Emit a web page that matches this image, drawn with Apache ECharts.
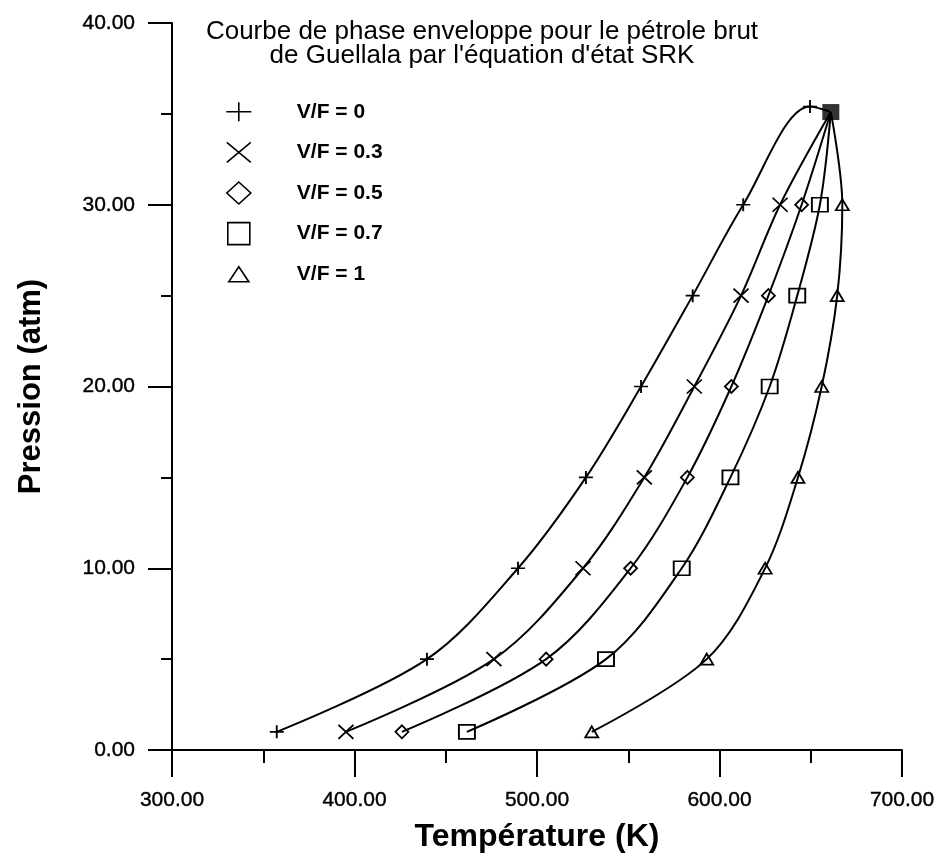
<!DOCTYPE html>
<html><head><meta charset="utf-8">
<script src="https://cdn.jsdelivr.net/npm/echarts@6/dist/echarts.min.js"></script>
<style>html,body{margin:0;padding:0;background:#fff}#c{width:940px;height:858px}</style>
</head><body><div id="c"></div>
<script>
// ---- data ----
const pressures = [1, 5, 10, 15, 20, 25, 30];            // atm
const tempVF0  = [357.4, 439.7, 489.6, 526.8, 557.0, 585.3, 613.0]; // K
const tempVF03 = [395.3, 476.4, 525.2, 558.8, 586.2, 611.8, 633.2];
const tempVF05 = [426.0, 505.0, 551.3, 582.4, 606.5, 626.8, 645.0];
const tempVF07 = [461.6, 537.8, 579.3, 606.0, 627.5, 642.6, 655.0];
const tempVF1  = [530.0, 593.0, 625.0, 643.0, 656.0, 664.5, 667.3];
const bubbleTopVF0 = [649.6, 35.4];   // extra "+" point on V/F = 0
const criticalPoint = [661.0, 35.1];  // common point of all curves
const seriesNames = ['V/F = 0', 'V/F = 0.3', 'V/F = 0.5', 'V/F = 0.7', 'V/F = 1'];
const xTickValues = [300, 400, 500, 600, 700];
const xTickLabels = ['300.00', '400.00', '500.00', '600.00', '700.00'];
const yTickValues = [0, 10, 20, 30, 40];
const yTickLabels = ['0.00', '10.00', '20.00', '30.00', '40.00'];
const titleLines = ['Courbe de phase enveloppe pour le pétrole brut', "de Guellala par l'équation d'état SRK"];
const xName = 'Température (K)';
const yName = 'Pression (atm)';

// ---- styling ----
const plotSymbols = [
  'path://M0,6 L13,6 M6.5,0 L6.5,12',
  'path://M0,0 L15,14 M15,0 L0,14',
  'diamond',
  'rect',
  'triangle'
];
const plotSizes = [[14, 13], [15, 14], [13, 13], [16, 14], [13, 11]];
const legendIcons = [
  'path://M0,0 M26,23 M0.5,11.5 L25.5,11.5 M13,2 L13,21',
  'path://M0,0 M26,23 M1,1.5 L25,21.5 M25,1.5 L1,21.5',
  'path://M0,0 M26,23 M13,0.5 L25,11.5 L13,22.5 L1,11.5 Z',
  'path://M0,0 M26,23 M2,0.5 L24,0.5 L24,22.5 L2,22.5 Z',
  'path://M0,0 M26,23 M13,4 L23,19 L3,19 Z'
];

const allTemps = [tempVF0, tempVF03, tempVF05, tempVF07, tempVF1];
function buildData(temps, idx) {
  const d = temps.map((t, i) => [t, pressures[i]]);
  if (idx === 0) d.push(bubbleTopVF0.slice());
  d.push({ value: criticalPoint.slice(), symbol: 'none' });
  return d;
}

const series = allTemps.map((temps, i) => ({
  name: seriesNames[i],
  type: 'line',
  data: buildData(temps, i),
  smooth: 0.33,
  symbol: plotSymbols[i],
  symbolSize: plotSizes[i],
  showAllSymbol: true,
  lineStyle: { color: '#000', width: 2 },
  itemStyle: { color: 'rgba(0,0,0,0)', borderColor: '#000', borderWidth: 1.8 },
  emphasis: { disabled: true },
  z: 3
}));
series.push({
  name: 'critical',
  type: 'scatter',
  data: [criticalPoint.slice()],
  symbol: 'rect',
  symbolSize: [17, 16],
  itemStyle: { color: '#000' },
  z: 5,
  silent: true
});

const labelFont = { fontFamily: 'Liberation Sans', fontSize: 21, color: '#000', textBorderColor: '#000', textBorderWidth: 0.4 };
const chart = echarts.init(document.getElementById('c'), null, { renderer: 'canvas' });
const axisCommon = {
  type: 'value',
  axisLine: { show: true, lineStyle: { color: '#000', width: 2 } },
  splitLine: { show: false },
  minorSplitLine: { show: false }
};
chart.setOption({
  animation: false,
  backgroundColor: '#fff',
  title: {
    text: titleLines.join('\n'),
    left: 482, top: 20, padding: 0,
    textAlign: 'center',
    textStyle: { fontFamily: 'Liberation Sans', fontSize: 26, fontWeight: 'normal', color: '#000', lineHeight: 24 }
  },
  legend: {
    orient: 'vertical', left: 225, top: 99.5, padding: 0,
    itemWidth: 26, itemHeight: 23, itemGap: 16,
    selectedMode: false,
    data: seriesNames.map((n, i) => ({ name: n, icon: legendIcons[i] })),
    itemStyle: { color: 'rgba(0,0,0,0)', borderColor: '#000', borderWidth: 1.6 },
    textStyle: { fontFamily: 'Liberation Sans', fontWeight: 'bold', fontSize: 21, lineHeight: 23, color: '#000', padding: [0, 0, 0, 40] }
  },
  grid: { left: 172, right: 38, top: 23, bottom: 102, containLabel: false },
  xAxis: Object.assign({}, axisCommon, {
    min: 300, max: 700, interval: 100,
    axisTick: { show: true, inside: false, length: 27, lineStyle: { color: '#000', width: 2 } },
    minorTick: { show: true, splitNumber: 2, length: 13, lineStyle: { color: '#000', width: 2 } },
    axisLabel: Object.assign({
      showMinLabel: true, showMaxLabel: true, margin: 40,
      formatter: v => { const k = xTickValues.indexOf(v); return k >= 0 ? xTickLabels[k] : ''; }
    }, labelFont),
    name: xName, nameLocation: 'middle', nameGap: 71,
    nameTextStyle: { fontFamily: 'Liberation Sans', fontWeight: 'bold', fontSize: 32, color: '#000' }
  }),
  yAxis: Object.assign({}, axisCommon, {
    min: 0, max: 40, interval: 10,
    axisTick: { show: true, inside: false, length: 24, lineStyle: { color: '#000', width: 2 } },
    minorTick: { show: true, splitNumber: 2, length: 11, lineStyle: { color: '#000', width: 2 } },
    axisLabel: Object.assign({
      showMinLabel: true, showMaxLabel: true, margin: 37,
      formatter: v => { const k = yTickValues.indexOf(v); return k >= 0 ? yTickLabels[k] : ''; }
    }, labelFont),
    name: yName, nameLocation: 'middle', nameGap: 125, nameRotate: 90,
    nameTextStyle: { fontFamily: 'Liberation Sans', fontWeight: 'bold', fontSize: 31, color: '#000' }
  }),
  series: series
});
</script>
</body></html>
